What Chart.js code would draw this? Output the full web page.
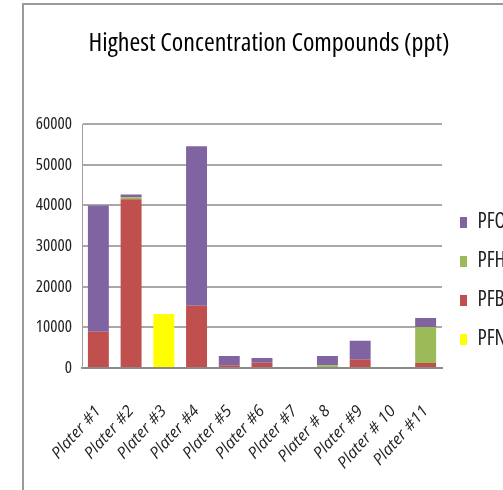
<!DOCTYPE html>
<html>
<head>
<meta charset="utf-8">
<script src="https://cdn.jsdelivr.net/npm/chart.js@4.4.1/dist/chart.umd.min.js"></script>
<style>
  html, body { margin: 0; padding: 0; background: #fff; overflow: hidden; width: 503px; height: 490px; }
  #frame { position: absolute; left: 22px; top: 3px; width: 520px; height: 600px;
           border-left: 2px solid #9a9a9a; border-top: 2px solid #9a9a9a; }
  #chart { position: absolute; left: 24px; top: 5px; }
</style>
</head>
<body>
<div id="frame"></div>
<canvas id="chart" width="479" height="552"></canvas>
<script>
// condensed face of Open Sans, picked via the weight slot of the font string
const FONT = "'Open Sans', 'DejaVu Sans Condensed', sans-serif";
const NARROW = '400 condensed';

const platers = ['Plater #1', 'Plater #2', 'Plater #3', 'Plater #4', 'Plater #5', 'Plater #6',
                 'Plater #7', 'Plater # 8', 'Plater #9', 'Plater # 10', 'Plater #11'];
const pfna  = [0, 0, 13300, 0, 0, 0, 0, 0, 0, 0, 0];
const pfbs  = [8900, 41500, 0, 15300, 700, 1300, 0, 0, 2050, 0, 1200];
const pfhxs = [0, 500, 0, 0, 0, 0, 0, 700, 0, 0, 8900];
const pfos  = [31100, 700, 0, 39300, 2250, 1150, 0, 2250, 4650, 0, 2200];
const y_ticks = [0, 10000, 20000, 30000, 40000, 50000, 60000];

function make_dataset(label, data, color) {
    return {
        label,
        data,
        backgroundColor: color,
        borderWidth: 0,
        categoryPercentage: 1.0,
        barPercentage: 0.64,
    };
}

const ctx = document.getElementById('chart');
new Chart(ctx, {
    type: 'bar',
    data: {
        labels: platers,
        datasets: [
            make_dataset('PFNA', pfna, '#FFFF00'),
            make_dataset('PFBS', pfbs, '#C0504D'),
            make_dataset('PFHxS', pfhxs, '#9BBB59'),
            make_dataset('PFOS', pfos, '#8064A2'),
        ]
    },
    options: {
        responsive: false,
        animation: false,
        devicePixelRatio: 1,
        layout: { padding: { left: 11, right: 0, top: 0, bottom: 0 } },
        plugins: {
            title: {
                display: true,
                text: 'Highest Concentration Compounds (ppt)',
                color: '#000',
                font: { family: FONT, size: 26, weight: NARROW },
                padding: { top: 23, bottom: 65 },
            },
            legend: {
                position: 'right',
                reverse: true,
                maxWidth: 61,
                labels: {
                    boxWidth: 7,
                    boxHeight: 11,
                    padding: 18,
                    color: '#222',
                    font: { family: FONT, size: 21, weight: NARROW },
                },
            },
            tooltip: { enabled: false },
        },
        scales: {
            x: {
                stacked: true,
                grid: { display: false, drawTicks: false },
                border: { display: true, color: '#8a8a8a', width: 2 },
                ticks: {
                    color: '#222',
                    font: { family: FONT, size: 16, style: 'italic' },
                    minRotation: 48,
                    maxRotation: 48,
                    padding: 34,
                },
                afterFit: (scale) => {
                    // rotated labels may hang left of the plot, don't let them push it
                    scale.height = 189;
                    scale.paddingLeft = 0;
                    scale.paddingRight = 0;
                },
            },
            y: {
                stacked: true,
                min: 0,
                max: 60000,
                afterBuildTicks: (scale) => { scale.ticks = y_ticks.map(v => ({ value: v })); },
                grid: { color: '#a8a8a8', lineWidth: 2, drawTicks: false },
                border: { display: true, color: '#a0a0a0', width: 1 },
                ticks: {
                    color: '#222',
                    font: { family: FONT, size: 17, weight: NARROW },
                    padding: 10,
                    callback: (v) => String(v),
                },
                afterFit: (scale) => { scale.width = 47; },
            },
        },
    },
});
</script>
</body>
</html>
